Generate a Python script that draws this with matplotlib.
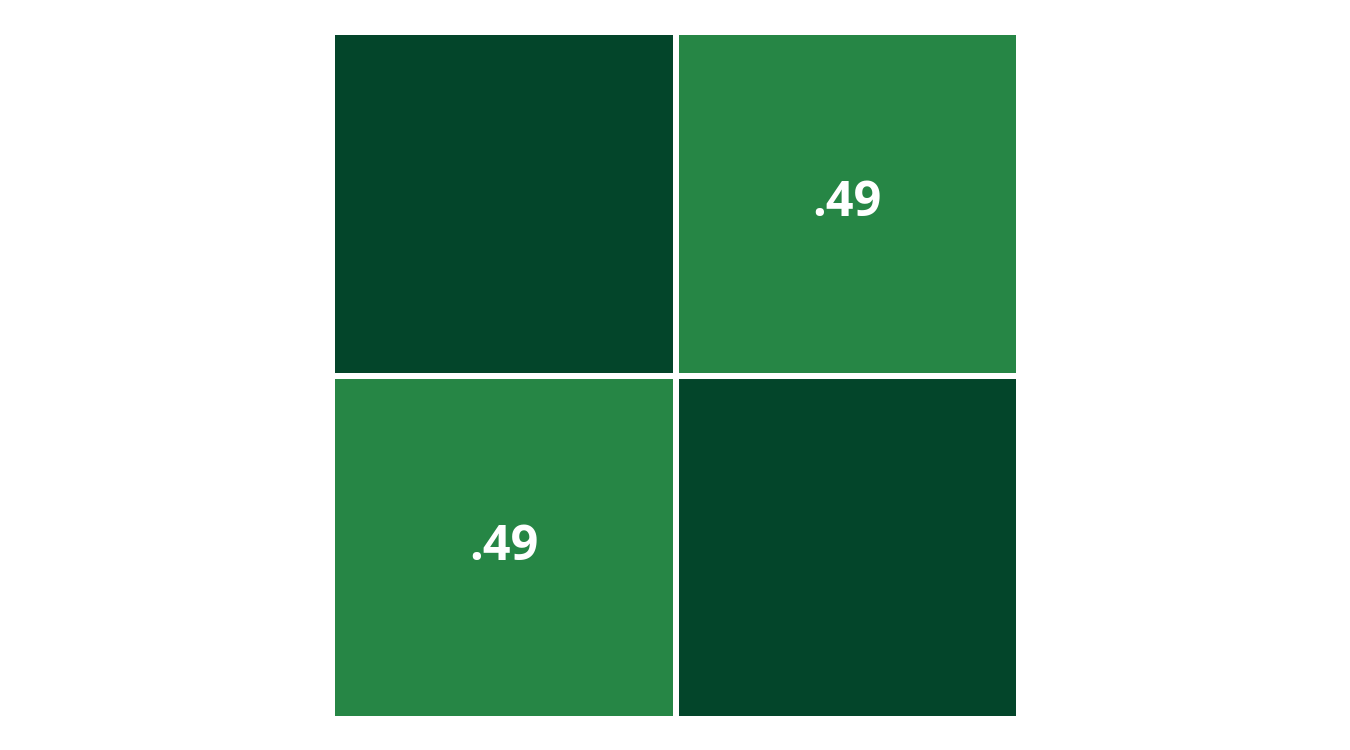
import numpy as np
import matplotlib.pyplot as plt
from matplotlib.colors import ListedColormap

# 2x2 correlation matrix
labels = ['A', 'B']
corr = np.array([[1.00, 0.49],
                 [0.49, 1.00]])

fig = plt.figure(figsize=(13.5, 7.5), dpi=100)
ax = fig.add_axes([332/1350, 1 - 719/750, 687/1350, 687/750])

cmap = ListedColormap(['#268645', '#03452a'])
ax.pcolormesh(corr, cmap=cmap, vmin=0.49, vmax=1.0,
              edgecolors='white', linewidth=4.3)
ax.set_xlim(0, 2)
ax.set_ylim(2, 0)
ax.set_axis_off()

for i in range(len(labels)):
    for j in range(len(labels)):
        if i == j:
            continue
        txt = ('%.2f' % corr[i, j]).lstrip('0')
        ax.text(j + 0.5, i + 0.5, txt, ha='center', va='center',
                color='white', fontsize=35, fontweight='bold',
                family=['Open Sans', 'DejaVu Sans'])

fig.savefig('out.png', dpi=100, facecolor='white')
